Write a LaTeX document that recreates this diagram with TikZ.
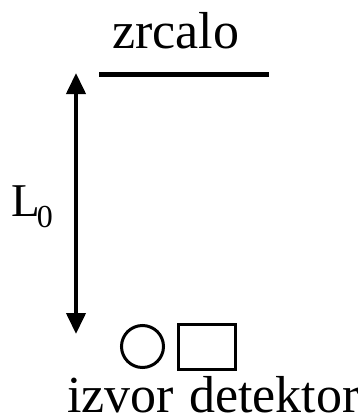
\documentclass[tikz,border=0pt]{standalone}
\usepackage{fontspec}
\setmainfont{Liberation Serif}
\usetikzlibrary{arrows.meta}
\begin{document}
\begin{tikzpicture}[x=1pt,y=-1pt,
  lbl/.style={inner sep=0pt,anchor=base west,font=\fontsize{52}{52}\selectfont},
  mirrorline/.style={line width=5pt},
  dimarrow/.style={line width=4pt,{Triangle[length=21pt,width=19pt]}-{Triangle[length=21pt,width=19pt]}},
  device/.style={line width=3pt}]
\useasboundingbox (0,0) rectangle (358,415);
\node[lbl] (zrcalo) at (112,48) {zrcalo};
\coordinate (mL) at (99,74.5);
\coordinate (mR) at (269,74.5);
\draw[mirrorline] (mL) -- (mR);
\coordinate (atop) at (76,73);
\coordinate (abot) at (76,334);
\draw[dimarrow] (atop) -- (abot);
\node[lbl,font=\fontsize{47}{47}\selectfont] (L0) at (11,216) {L\kern-3pt\raisebox{-11pt}{\fontsize{32}{32}\selectfont 0}};
\node[device,draw,circle,minimum size=42pt,inner sep=0pt] (izvorsym) at (142.5,346.5) {};
\node[device,draw,rectangle,minimum width=57pt,minimum height=45pt,inner sep=0pt] (detsym) at (207,347) {};
\node[lbl] (izvor) at (67,412) {izvor};
\node[lbl] (detektor) at (189,412) {detektor};
\end{tikzpicture}
\end{document}
